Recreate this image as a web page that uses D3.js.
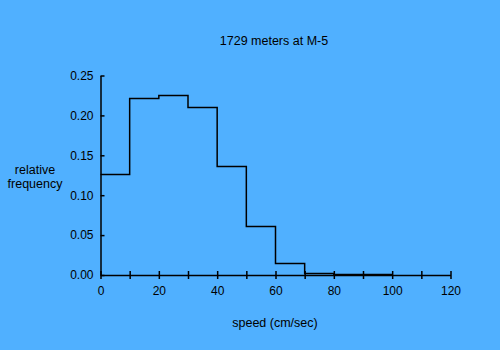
<html>
  <head>
    <script src="https://d3js.org/d3.v7.min.js"></script>
    <style>
      body { margin: 0; background: #50b0ff; }
      svg { font-family: "Liberation Sans", Arial, sans-serif; }
      .axis path, .axis line { stroke: black; }
      .axis text { font-size: 12px; fill: black; }
      .label { font-size: 12.5px; }
    </style>
  </head>
  <body>
    <div id="chart"></div>
    <script>
      // bin edges (cm/sec) and relative frequencies
      var binStarts = [0, 10, 20, 30, 40, 50, 60, 70, 80, 90];
      var binWidth = 10;
      var freqs = [0.126, 0.222, 0.225, 0.210, 0.136, 0.061, 0.015, 0.002, 0.001, 0.001];
      var xTicks = [0, 10, 20, 30, 40, 50, 60, 70, 80, 90, 100, 110, 120];
      var xLabels = [0, 20, 40, 60, 80, 100, 120];
      var yTicks = [0, 0.05, 0.10, 0.15, 0.20, 0.25];

      var width = 500, height = 350;

      var svg = d3.select("#chart").append("svg")
        .attr("width", width)
        .attr("height", height);

      svg.append("rect")
        .attr("width", width).attr("height", height)
        .attr("fill", "#50b0ff");

      var x = d3.scaleLinear().domain([0, 120]).range([100.5, 450.5]);
      var y = d3.scaleLinear().domain([0, 0.25]).range([275, 75.5]);

      /* step line */
      var pts = [];
      binStarts.forEach(function(b, i) {
        pts.push([b, freqs[i]]);
        pts.push([b + binWidth, freqs[i]]);
      });
      pts.push([binStarts[binStarts.length - 1] + binWidth, 0]);

      var line = d3.line()
        .x(d => x(d[0]))
        .y(d => Math.round(y(d[1])) + 0.5);

      svg.append("path")
        .attr("d", line(pts))
        .attr("fill", "none")
        .attr("stroke", "black")
        .attr("stroke-width", 1.5);

      /* axes with ticks crossing the line */
      var xAxis = svg.append("g")
        .attr("class", "x axis")
        .attr("transform", "translate(0,275)")
        .call(d3.axisBottom(x).tickValues(xTicks)
          .tickSize(4)
          .tickSizeOuter(0)
          .tickFormat(d => xLabels.indexOf(d) >= 0 ? d : ""));
      xAxis.select(".domain").attr("stroke-width", 1.5);
      xAxis.selectAll(".tick line").attr("y1", -4).attr("stroke-width", 1.5);
      xAxis.selectAll(".tick text").attr("dy", "0.71em").attr("y", 11);

      var yAxis = svg.append("g")
        .attr("class", "y axis")
        .attr("transform", "translate(100.5,0)")
        .call(d3.axisLeft(y).tickValues(yTicks)
          .tickSize(4)
          .tickSizeOuter(0)
          .tickFormat(d3.format(".2f")));
      yAxis.select(".domain").attr("stroke-width", 1.5);
      yAxis.selectAll(".tick line").attr("x2", 4).attr("stroke-width", 1.5);
      yAxis.selectAll(".tick text").attr("x", -7);

      /* titles */
      svg.append("text")
        .attr("class", "label")
        .attr("x", 274).attr("y", 45)
        .attr("text-anchor", "middle")
        .text("1729 meters at M-5");

      svg.append("text")
        .attr("class", "label")
        .attr("x", 275).attr("y", 327)
        .attr("text-anchor", "middle")
        .text("speed (cm/sec)");

      var yl = svg.append("text")
        .attr("class", "label")
        .attr("text-anchor", "middle");
      yl.append("tspan").attr("x", 35).attr("y", 174).text("relative");
      yl.append("tspan").attr("x", 35).attr("y", 188).text("frequency");
    </script>
  </body>
</html>
